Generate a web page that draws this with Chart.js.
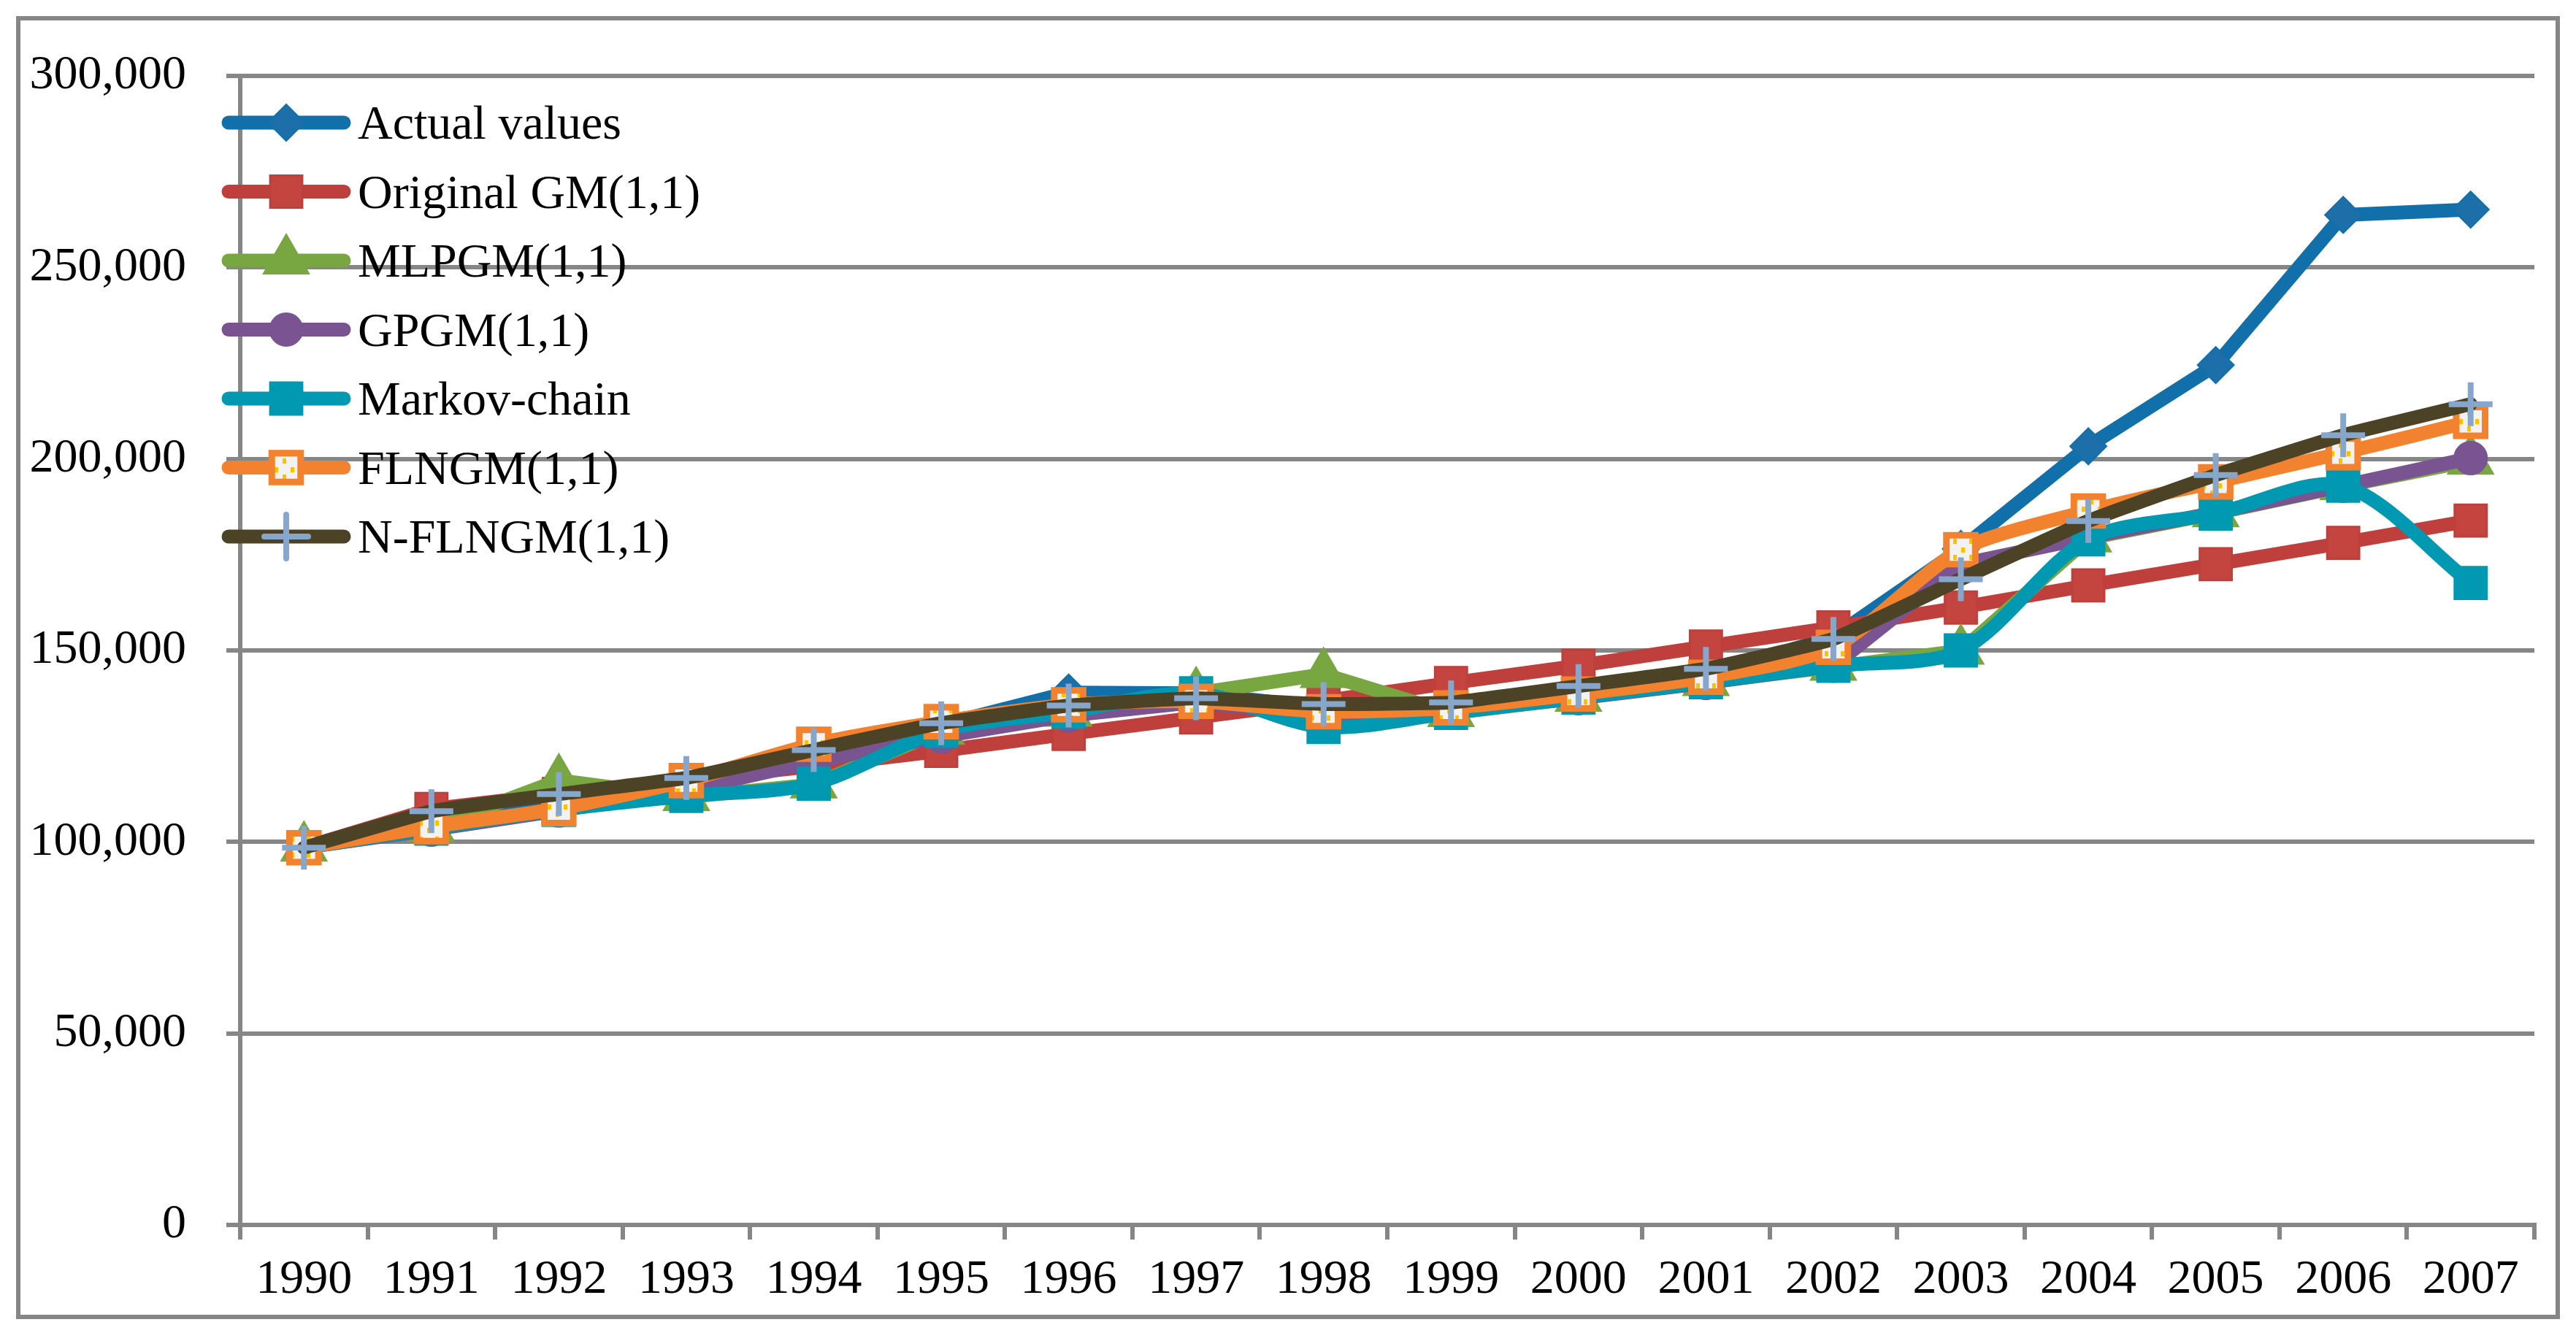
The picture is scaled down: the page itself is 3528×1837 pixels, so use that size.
<!DOCTYPE html>
<html>
<head>
<meta charset="utf-8">
<script src="https://cdn.jsdelivr.net/npm/chart.js@4/dist/chart.umd.min.js"></script>
<style>
  html, body { margin: 0; padding: 0; background: #fff; }
  canvas { display: block; }
</style>
</head>
<body>
<canvas id="myChart" width="3528" height="1837"></canvas>
<script>
// values
const years = ['1990', '1991', '1992', '1993', '1994', '1995', '1996', '1997', '1998',
               '1999', '2000', '2001', '2002', '2003', '2004', '2005', '2006', '2007'];

const actualValues = [98500, 103800, 110000, 114500, 122000, 130500, 139000, 138800, 135000,
                      135500, 139000, 143500, 153500, 176500, 203300, 224500, 263700, 265100];
const originalGM = [98500, 108600, 112500, 116200, 119800, 123800, 128200, 132500, 136800,
                    141500, 146000, 151000, 156000, 161200, 167000, 172500, 178100, 183900];
const mlpgm = [98500, 103600, 116100, 111700, 115000, 129000, 133700, 138800, 143800,
               133600, 137600, 141700, 145700, 149900, 179200, 185800, 192900, 199500];
const gpgm = [98500, 103200, 108200, 113500, 121000, 127500, 133000, 136500, 133000,
              134000, 137500, 141500, 146000, 172500, 179500, 186000, 193000, 200200];
const markovChain = [98500, 103500, 108400, 112000, 115200, 129000, 134000, 138800, 130000,
                     133700, 137700, 141700, 146000, 150000, 179000, 185700, 193000, 167600];
const flngm = [98500, 104000, 108700, 116000, 125500, 131400, 135800, 136700, 134000,
               135000, 138600, 143000, 150800, 176300, 186400, 194000, 201600, 209800];
const nFlngm = [98500, 108000, 112500, 116700, 124000, 131000, 135600, 137500, 136000,
                136400, 140700, 145200, 153000, 168600, 183800, 195800, 206200, 214300];

const yTickValues = [0, 50000, 100000, 150000, 200000, 250000, 300000];

const FONT = '"Liberation Serif", "Times New Roman", serif';
const GRID = '#868686';

// light grey fill with small yellow dots, like the FLNGM marker
function dotPattern() {
    let c = document.createElement('canvas');
    c.width = 22; c.height = 22;
    let g = c.getContext('2d');
    g.fillStyle = '#F2F2F2';
    g.fillRect(0, 0, 22, 22);
    g.fillStyle = '#FFC000';
    g.fillRect(2, 2, 5, 7);
    g.fillRect(13, 12, 5, 7);
    return g.createPattern(c, 'repeat');
}

function series(label, data, color, extra) {
    return Object.assign({
        label: label,
        data: data,
        borderColor: color,
        backgroundColor: color,
        borderWidth: 19,
        borderCapStyle: 'round',
        borderJoinStyle: 'round',
        tension: 0,
        pointBackgroundColor: color,
        pointBorderColor: color,
        pointBorderWidth: 2,
        pointHoverRadius: 0
    }, extra);
}

const datasets = [
    series('Actual values', actualValues, '#1170AA',
        {order: 7, pointStyle: 'rectRot', pointRadius: 25, pointBackgroundColor: '#1C6FA8'}),
    series('Original GM(1,1)', originalGM, '#BE3F3B',
        {order: 6, pointStyle: 'rect', pointRadius: 31, pointBackgroundColor: '#C4443F', pointBorderWidth: 3}),
    series('MLPGM(1,1)', mlpgm, '#78A640',
        {order: 5, pointStyle: 'triangle', pointRadius: 36}),
    series('GPGM(1,1)', gpgm, '#795490',
        {order: 4, pointStyle: 'circle', pointRadius: 22, pointBorderWidth: 3}),
    series('Markov-chain', markovChain, '#0099B1',
        {order: 3, pointStyle: 'rect', pointRadius: 31, tension: 0.3, pointBorderWidth: 3}),
    series('FLNGM(1,1)', flngm, '#F3822E',
        {order: 2, pointStyle: 'rect', pointRadius: 28, tension: 0.25,
         pointBackgroundColor: dotPattern(), pointBorderWidth: 9}),
    series('N-FLNGM(1,1)', nFlngm, '#4C4226',
        {order: 1, pointStyle: 'cross', pointRadius: 30, tension: 0.1,
         pointBorderColor: '#87A6CC', pointBorderWidth: 8})
];

// white page and grey frame around everything
const frame = {
    id: 'frame',
    beforeDraw(chart) {
        let ctx = chart.ctx;
        ctx.save();
        ctx.fillStyle = '#fff';
        ctx.fillRect(0, 0, chart.width, chart.height);
        ctx.restore();
    },
    afterDraw(chart) {
        let ctx = chart.ctx;
        ctx.save();
        ctx.strokeStyle = GRID;
        ctx.lineWidth = 6;
        ctx.strokeRect(25, 25, 3478, 1779);
        ctx.restore();
    }
};

// legend in the top-left corner of the plot, line with marker in the middle
const insideLegend = {
    id: 'insideLegend',
    afterDatasetsDraw(chart) {
        let ctx = chart.ctx;
        chart.data.datasets.forEach(function(ds, i) {
            let y = 168 + i * 94.5;
            ctx.save();
            ctx.strokeStyle = ds.borderColor;
            ctx.lineWidth = ds.borderWidth;
            ctx.lineCap = 'round';
            ctx.beginPath();
            ctx.moveTo(313, y);
            ctx.lineTo(471, y);
            ctx.stroke();

            ctx.fillStyle = ds.pointBackgroundColor;
            ctx.strokeStyle = ds.pointBorderColor;
            ctx.lineWidth = ds.pointBorderWidth;
            Chart.helpers.drawPoint(ctx, {
                pointStyle: ds.pointStyle,
                radius: ds.pointRadius,
                borderWidth: ds.pointBorderWidth,
                rotation: 0
            }, 392, y);

            ctx.fillStyle = '#000';
            ctx.font = '66px ' + FONT;
            ctx.textAlign = 'left';
            ctx.textBaseline = 'alphabetic';
            ctx.fillText(ds.label, 490, y + 22);
            ctx.restore();
        });
    }
};

let ctx = document.getElementById('myChart').getContext('2d');
let myChart = new Chart(ctx, {
    type: 'line',
    data: {
        labels: years,
        datasets: datasets
    },
    options: {
        responsive: false,
        animation: false,
        devicePixelRatio: 1,
        layout: {padding: {left: 0, top: 104, right: 57, bottom: 0}},
        plugins: {
            legend: {display: false},
            tooltip: {enabled: false}
        },
        scales: {
            x: {
                type: 'category',
                offset: true,
                grid: {
                    offset: true,
                    drawOnChartArea: false,
                    drawTicks: true,
                    tickLength: 20,
                    color: GRID,
                    lineWidth: 6
                },
                border: {display: true, color: GRID, width: 6},
                ticks: {
                    color: '#000',
                    font: {family: FONT, size: 66},
                    padding: 16,
                    maxRotation: 0,
                    autoSkip: false
                },
                afterFit: function(scale) { scale.height = 159; }
            },
            y: {
                min: 0,
                max: 300000,
                afterBuildTicks: function(scale) {
                    scale.ticks = yTickValues.map(function(v) { return {value: v}; });
                },
                grid: {
                    color: GRID,
                    lineWidth: 6,
                    drawTicks: true,
                    tickLength: 19
                },
                border: {display: true, color: GRID, width: 6},
                ticks: {
                    color: '#000',
                    font: {family: FONT, size: 66},
                    padding: 55,
                    callback: function(v) { return v.toLocaleString('en-US'); }
                },
                afterFit: function(scale) { scale.width = 329; }
            }
        }
    },
    plugins: [frame, insideLegend]
});
</script>
</body>
</html>
